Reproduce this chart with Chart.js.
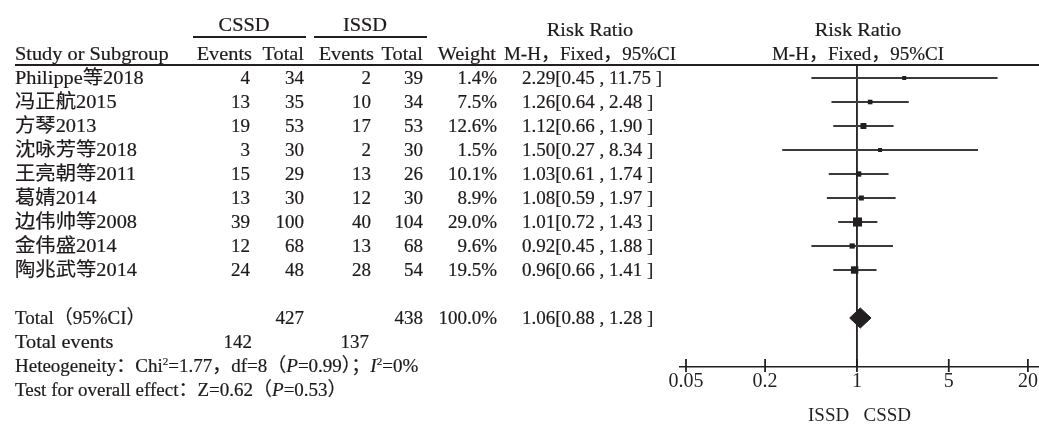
<!DOCTYPE html>
<html><head><meta charset="utf-8">
<script src="https://cdn.jsdelivr.net/npm/chart.js@4.4.0/dist/chart.umd.min.js"></script>
<style>
html,body{margin:0;padding:0;background:#fff;overflow:hidden;}
#wrap{position:relative;width:1039px;height:424px;}
canvas{position:absolute;left:0;top:0;}
.t{position:absolute;white-space:nowrap;font-family:"Liberation Serif","Noto Sans CJK SC",serif;font-size:19px;line-height:24px;height:24px;color:#1e1a1b;-webkit-text-stroke:0.2px #1e1a1b;}
.t sup{font-size:11px;line-height:0;vertical-align:7px;}
.rule{position:absolute;background:#231f20;}
</style></head><body>
<div id="wrap"><canvas id="c" width="1039" height="424"></canvas></div>
<script>
// ---- data ----
const studies = ['Philippe等2018','冯正航2015','方琴2013','沈咏芳等2018','王亮朝等2011','葛婧2014','边伟帅等2008','金伟盛2014','陶兆武等2014'];
const cssdEvents = [4,13,19,3,15,13,39,12,24];
const cssdTotal  = [34,35,53,30,29,30,100,68,48];
const issdEvents = [2,10,17,2,13,12,40,13,28];
const issdTotal  = [39,34,53,30,26,30,104,68,54];
const weights    = [1.4,7.5,12.6,1.5,10.1,8.9,29.0,9.6,19.5];
const rr         = [2.29,1.26,1.12,1.50,1.03,1.08,1.01,0.92,0.96];
const lower      = [0.45,0.64,0.66,0.27,0.61,0.59,0.72,0.45,0.66];
const upper      = [11.75,2.48,1.90,8.34,1.74,1.97,1.43,1.88,1.41];
const pooled     = [1.06,0.88,1.28];       // estimate, lower, upper
const totalN     = [427,438];              // CSSD, ISSD
const totalEvents= [142,137];              // CSSD, ISSD
const totalWeight= 100.0;
const heterogeneity = {chi2:1.77, df:8, p:0.99, i2:0};
const overall    = {z:0.62, p:0.53};
const tickValues = [0.05,0.2,1,5,20];
const tickLabels = ['0.05','0.2','1','5','20'];

// ---- chart ----
const INK = '#231f20';
const Y_MIN = -0.5417, Y_MAX = 12.0417;
const X_MIN = 0.045, X_MAX = 24.3;
const totalRow = studies.length + 1;

const datasets = [];
datasets.push({
  data: rr.map((v,i)=>({x:v,y:i})),
  pointStyle:'rect',
  pointRadius: weights.map(w => Math.max(4, 1.68*Math.sqrt(w))/Math.SQRT2),
  backgroundColor: INK, borderWidth:0, showLine:false
});
datasets.push({
  data:[{x:pooled[1],y:totalRow},{x:pooled[0],y:totalRow-0.42},{x:pooled[2],y:totalRow},{x:pooled[0],y:totalRow+0.42},{x:pooled[1],y:totalRow}],
  showLine:true, fill:'shape', backgroundColor:INK, borderColor:INK, borderWidth:1, pointRadius:0, tension:0
});
studies.forEach((s,i)=>{
  datasets.push({data:[{x:lower[i],y:i},{x:upper[i],y:i}], showLine:true, borderColor:'#3a3a3a', borderWidth:1.8, pointRadius:0});
});
datasets.push({data:[{x:1,y:Y_MIN},{x:1,y:Y_MAX}], showLine:true, borderColor:INK, borderWidth:1.8, pointRadius:0});

const tickMarks = {
  id:'tickMarks',
  afterDraw(chart){
    const s = chart.scales.x, c = chart.ctx;
    c.save(); c.strokeStyle = INK; c.lineWidth = 1.8;
    s.ticks.forEach(t=>{
      const px = s.getPixelForValue(t.value);
      c.beginPath(); c.moveTo(px, s.top-8); c.lineTo(px, s.top+5); c.stroke();
    });
    c.restore();
  }
};

const chart = new Chart(document.getElementById('c'), {
  type:'scatter',
  data:{datasets},
  options:{
    responsive:false, animation:false, devicePixelRatio:1,
    layout:{autoPadding:false, padding:{left:680,right:0,top:65,bottom:0}},
    plugins:{legend:{display:false},tooltip:{enabled:false}},
    scales:{
      x:{type:'logarithmic', min:X_MIN, max:X_MAX, position:'bottom',
         afterBuildTicks:s=>{ s.ticks = tickValues.map(v=>({value:v})); },
         afterFit:s=>{ s.height = 57; s.paddingLeft = 0; s.paddingRight = 0; },
         grid:{display:false, drawTicks:false},
         border:{display:true, color:INK, width:1.6},
         ticks:{callback:(v,i)=>tickLabels[i], autoSkip:false, maxRotation:0, minRotation:0,
                font:{family:'Liberation Serif', size:20}, color:INK, padding:3},
         title:{display:true, text:'ISSD   CSSD', color:INK,
                font:{family:'Liberation Serif', size:19, lineHeight:0.8}, padding:{top:0,bottom:0}}
      },
      y:{type:'linear', reverse:true, min:Y_MIN, max:Y_MAX, display:false}
    }
  },
  plugins:[tickMarks]
});

// ---- table text ----
const wrap = document.getElementById('wrap');
function txt(html, x, y, align, k){
  k = k || 1;
  const d = document.createElement('div');
  d.className = 't';
  d.innerHTML = html;
  d.style.left = x+'px';
  d.style.top = (y-12)+'px';
  let tr = '', org = '0 0';
  if (align==='r'){ tr = 'translateX(-100%) '; org = '100% 0'; }
  else if (align==='c'){ tr = 'translateX(-50%) '; org = '50% 0'; }
  d.style.transformOrigin = org;
  d.style.transform = tr + 'scaleX(' + k + ')';
  wrap.appendChild(d);
}
function rule(x1,x2,y,h){
  const d = document.createElement('div');
  d.className='rule';
  d.style.left=x1+'px'; d.style.width=(x2-x1)+'px'; d.style.top=y+'px'; d.style.height=h+'px';
  wrap.appendChild(d);
}
const ys = v => chart.scales.y.getPixelForValue(v);
const ci = (e,l,u) => e.toFixed(2)+'[' + l.toFixed(2) + ' , ' + u.toFixed(2) + ' ]';
const X = {study:15, ce:250, ct:304, ie:371, it:423, w:497, rr:522};
const K = 1.07;

// headers
txt('CSSD', 244, 25, 'c', K);
txt('ISSD', 365, 25, 'c', K);
rule(193,306,36,2); rule(314,427,36,2);
txt('Study or Subgroup', X.study, 54, 'l', K);
txt('Events', 252, 54, 'r', K); txt('Total', 304, 54, 'r', K);
txt('Events', 374, 54, 'r', K); txt('Total', 423, 54, 'r', K);
txt('Weight', 496, 54, 'r', K);
txt('Risk Ratio', 590, 30, 'c', K); txt('M-H，Fixed，95%CI', 590, 54, 'c');
txt('Risk Ratio', 858, 30, 'c', K); txt('M-H，Fixed，95%CI', 858, 54, 'c');
rule(15,1039,64,2);

studies.forEach((s,i)=>{
  const y = ys(i);
  txt(s, X.study, y, 'l', K);
  txt(String(cssdEvents[i]), X.ce, y, 'r');
  txt(String(cssdTotal[i]), X.ct, y, 'r');
  txt(String(issdEvents[i]), X.ie, y, 'r');
  txt(String(issdTotal[i]), X.it, y, 'r');
  txt(weights[i].toFixed(1)+'%', X.w, y, 'r');
  txt(ci(rr[i],lower[i],upper[i]), X.rr, y);
});
let y = ys(totalRow);
txt('Total（95%CI）', X.study, y);
txt(String(totalN[0]), X.ct, y, 'r');
txt(String(totalN[1]), X.it, y, 'r');
txt(totalWeight.toFixed(1)+'%', X.w, y, 'r');
txt(ci(pooled[0],pooled[1],pooled[2]), X.rr, y);
y = ys(totalRow+1);
txt('Total events', X.study, y, 'l', K);
txt(String(totalEvents[0]), 252, y, 'r');
txt(String(totalEvents[1]), 369, y, 'r');
y = ys(totalRow+2);
txt('Heteogeneity：Chi<sup>2</sup>='+heterogeneity.chi2.toFixed(2)+'，df='+heterogeneity.df+'（<i>P</i>='+heterogeneity.p.toFixed(2)+'）；<i>I</i><sup>2</sup>='+heterogeneity.i2+'%', X.study, y);
y = ys(totalRow+3);
txt('Test for overall effect：Z='+overall.z.toFixed(2)+'（<i>P</i>='+overall.p.toFixed(2)+'）', X.study, y);
</script>
</body></html>
